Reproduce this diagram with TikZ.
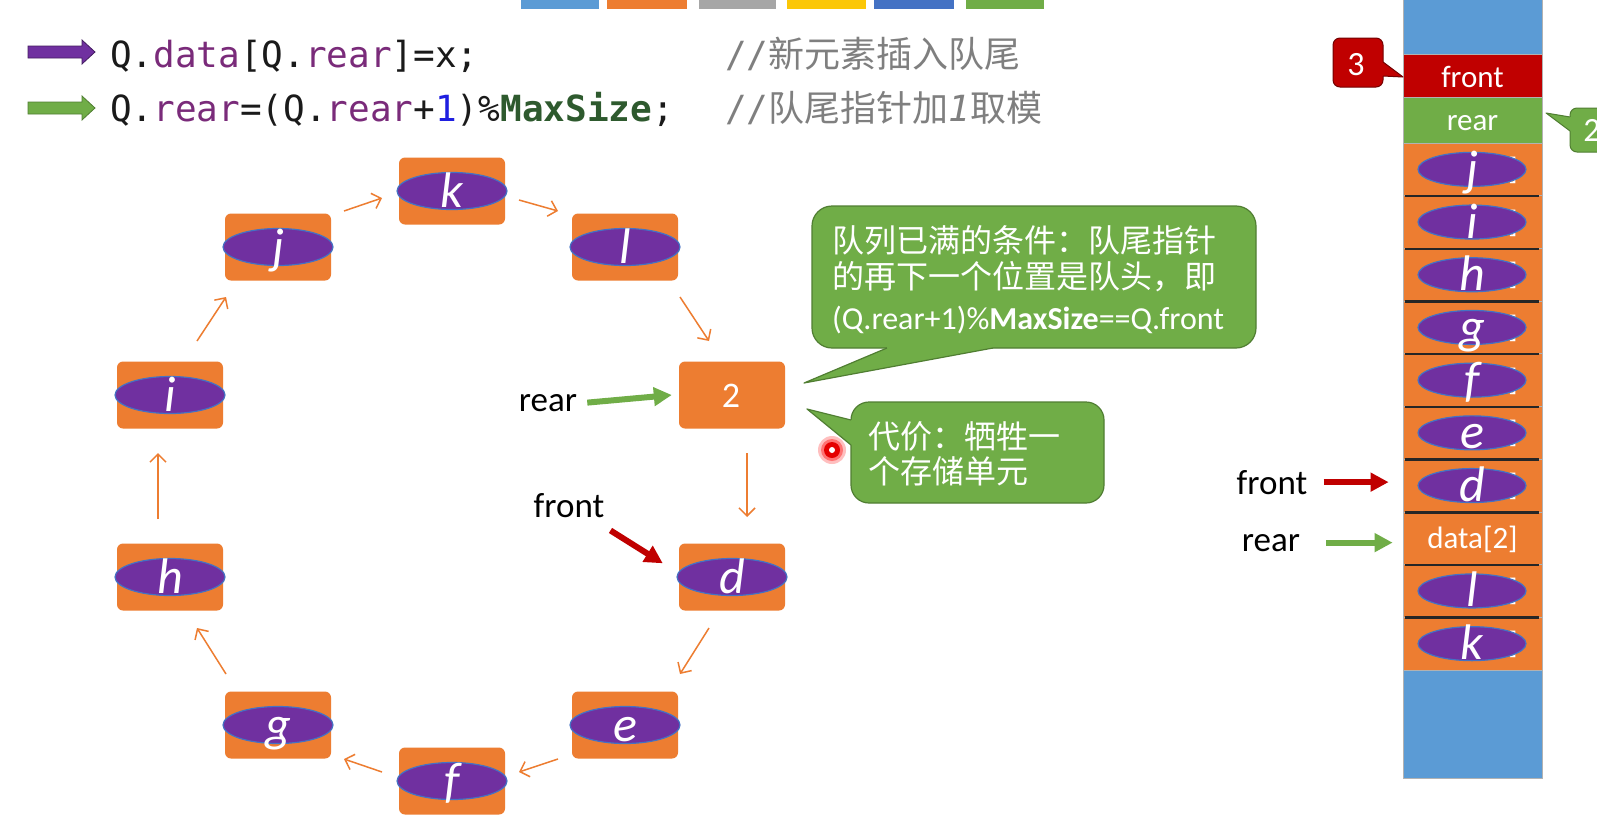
\documentclass[tikz,border=0pt]{standalone}
\usepackage{fontspec}
\setmainfont{Carlito}
\newfontfamily\cjk{Noto Sans CJK SC}
\newfontfamily\monof{DejaVu Sans Mono}
\usetikzlibrary{arrows.meta,shapes.geometric,calc}
\definecolor{oran}{HTML}{ED7D31}
\definecolor{grn}{HTML}{70AD47}
\definecolor{grnd}{HTML}{507E32}
\definecolor{dred}{HTML}{C00000}
\definecolor{purp}{HTML}{7030A0}
\definecolor{blu}{HTML}{5B9BD5}
\definecolor{ellb}{HTML}{4472C4}
\definecolor{kw}{HTML}{7A2B7A}
\definecolor{mgreen}{HTML}{2E5A2E}
\definecolor{numblue}{HTML}{1F1FE0}
\definecolor{cmt}{HTML}{7F7F7F}
\definecolor{ink}{HTML}{1A1A1A}
\newcommand{\pxsize}[1]{\fontsize{#1}{#1}\selectfont}
\tikzset{
 qbox/.style={rectangle, rounded corners=6pt, fill=oran, minimum width=106pt, minimum height=67pt, inner sep=0pt},
 qell/.style={ellipse, fill=purp, draw=ellb, line width=1.2pt, minimum width=110pt, minimum height=37pt, inner sep=0pt},
 qlet/.style={text=white, font=\pxsize{50}\itshape, inner sep=0pt, anchor=base},
 flow/.style={draw=oran, line width=1.5pt, -{Straight Barb[length=8pt,width=16pt]}},
 lbl/.style={font=\pxsize{35}, inner sep=0pt, text=black, anchor=base},
 fat/.style={line width=6pt, -{Triangle[length=18pt,width=18pt]}},
 cell/.style={rectangle, minimum width=139pt, inner sep=0pt, draw=gray!60, line width=0.8pt},
 celltxt/.style={text=white, font=\pxsize{31}, inner sep=0pt, anchor=base},
 sepline/.style={draw=black!85, line width=2.5pt},
 callbox/.style={rectangle, rounded corners=20pt, fill=grn, draw=grnd, line width=1.2pt, inner sep=0pt},
 calltxt/.style={text=white, inner sep=0pt, anchor=base west},
 codetxt/.style={font=\monof\pxsize{36}, inner sep=0pt, anchor=base west, text=ink},
}
\newcommand{\qnode}[4]{%
 \node[qbox] (#1) at (#2,#3) {};
 \node[qell] (#1e) at (#2,#3) {};
 \node[qlet] (#1t) at (#2,#3+16) {#4};
}
\newcommand{\ccell}[3]{%
 \node[cell, fill=oran, minimum height=52.7pt] (#1) at (1472.5,#2) {};
 \node[celltxt] (#1b) at (1513,#2+10) {]};
 \node[qell, minimum width=108pt, minimum height=34pt] (#1e) at (1472,#2) {};
 \node[qlet] (#1t) at (1472,#2+16) {#3};
}
\begin{document}
\begin{tikzpicture}[x=1pt,y=-1pt]
\useasboundingbox (0,0) rectangle (1597,814);
\clip (0,0) rectangle (1597,814);
\fill[white] (0,0) rectangle (1597,814);

% top colour tabs
\fill[blu] (521,0) rectangle (599,9);
\fill[oran] (607,0) rectangle (687,9);
\fill[gray!70] (699,0) rectangle (776,9);
\fill[yellow!60!orange] (787,0) rectangle (866,9);
\fill[ellb] (874,0) rectangle (954,9);
\fill[grn] (966,0) rectangle (1044,9);

% code lines
\filldraw[fill=purp, draw=purp!60!black, line width=0.8pt] (28,46) -- (82,46) -- (82,40) -- (95,52) -- (82,64) -- (82,58) -- (28,58) -- cycle;
\filldraw[fill=grn, draw=grnd, line width=0.8pt] (28,102) -- (82,102) -- (82,96) -- (95,108) -- (82,120) -- (82,114) -- (28,114) -- cycle;
\node[codetxt] (code1) at (110,67) {Q.\textcolor{kw}{data}[Q.\textcolor{kw}{rear}]=x;};
\node[codetxt] (code2) at (110,121) {Q.\textcolor{kw}{rear}=(Q.\textcolor{kw}{rear}+\textcolor{numblue}{1})\%\textcolor{mgreen}{\bfseries MaxSize};};
\node[codetxt, text=cmt] (cm1) at (725,67) {//{\cjk 新元素插入队尾}};
\node[codetxt, text=cmt] (cm2) at (725,121) {//{\cjk 队尾指针加}{\itshape 1}{\cjk 取模}};

% circular queue
\qnode{k}{452}{191}{k}
\qnode{l}{625}{247}{l}
\node[qbox] (n2) at (732,395) {};
\node[text=white, font=\pxsize{36}, inner sep=0pt, anchor=base] (n2t) at (731,407) {2};
\qnode{d}{732}{577}{d}
\qnode{e}{625}{725}{e}
\qnode{f}{452}{781}{f}
\qnode{g}{278}{725}{g}
\qnode{h}{170}{577}{h}
\qnode{i}{170}{395}{i}
\qnode{j}{278}{247}{j}

\draw[flow] ($(j)+(66,-36)$) -- ($(k)+(-70,7)$);
\draw[flow] ($(k)+(67,9)$) -- ($(l)+(-67,-36)$);
\draw[flow] ($(l)+(55,50)$) -- ($(n2)+(-23,-54)$);
\draw[flow] ($(n2)+(15,58)$) -- ($(d)+(15,-60)$);
\draw[flow] ($(d)+(-23,51)$) -- ($(e)+(55,-51)$);
\draw[flow] ($(e)+(-67,34)$) -- ($(f)+(67,-9)$);
\draw[flow] ($(f)+(-70,-9)$) -- ($(g)+(66,34)$);
\draw[flow] ($(g)+(-52,-51)$) -- ($(h)+(27,51)$);
\draw[flow] ($(h)+(-12,-58)$) -- ($(i)+(-12,58)$);
\draw[flow] ($(i)+(27,-54)$) -- ($(j)+(-52,50)$);

\node[lbl] (rearL) at (548,411) {rear};
\node[lbl] (frontL) at (569,517) {front};
\draw[fat, grn] ([xshift=10pt]rearL.east) -- ([xshift=-7pt]n2.west);
\draw[fat, dred] ([shift={(6,13)}]frontL.south east) -- ([shift={(-16,20)}]d.north west);

% callout 1
\node[callbox, minimum width=444pt, minimum height=142pt] (call1) at (1034,277) {};
\fill[grn] (887,348) -- (804,383) -- (993,348) -- (993,343) -- (887,343) -- cycle;
\draw[grnd, line width=1.2pt, line join=round] (887,348) -- (804,383) -- (993,348);
\node[calltxt, font=\cjk\pxsize{32}] (c1a) at (832,252) {队列已满的条件：队尾指针};
\node[calltxt, font=\cjk\pxsize{32}] (c1b) at (832,288) {的再下一个位置是队头，即};
\node[calltxt, font=\pxsize{32}] (c1c) at (832,329) {(Q.rear+1)\%\textbf{MaxSize}==Q.front};

% callout 2
\node[callbox, rounded corners=18pt, minimum width=253pt, minimum height=101pt] (call2) at (977.5,452.5) {};
\fill[grn] (851,420) -- (807,409) -- (851,445) -- (856,445) -- (856,420) -- cycle;
\draw[grnd, line width=1.2pt, line join=round] (851,420) -- (807,409) -- (851,445);
\node[calltxt, font=\cjk\pxsize{32}] (c2a) at (868,448) {代价：牺牲一};
\node[calltxt, font=\cjk\pxsize{32}] (c2b) at (868,483) {个存储单元};

% laser dot
\fill[red!25] (832,450) circle (14);
\fill[red!55] (832,450) circle (11);
\fill[red!90!black] (832,450) circle (8);
\fill[white] (832,450) circle (3);

% array column
\node[cell, fill=blu, minimum height=58pt] (ctop) at (1472.5,25) {};
\node[cell, fill=dred, minimum height=43pt] (cfront) at (1472.5,75.5) {};
\node[celltxt] (cfrontt) at (1472.5,87) {front};
\node[cell, fill=grn, minimum height=46pt] (crear) at (1472.5,120) {};
\node[celltxt] (creart) at (1472.5,130) {rear};
\ccell{cj}{169.35}{j}
\ccell{ci}{222.05}{i}
\ccell{ch}{274.75}{h}
\ccell{cg}{327.45}{g}
\ccell{cf}{380.15}{f}
\ccell{ce}{432.85}{e}
\ccell{cd}{485.55}{d}
\node[cell, fill=oran, minimum height=52.7pt] (cdata) at (1472.5,538.25) {};
\node[celltxt] (cdatat) at (1472.5,548) {data[2]};
\ccell{cl}{590.95}{l}
\ccell{ck}{643.65}{k}
\node[cell, fill=blu, minimum height=108pt] (cbot) at (1472.5,724) {};
\foreach \a/\b in {cj/ci,ci/ch,ch/cg,cg/cf,cf/ce,ce/cd,cd/cdata,cdata/cl,cl/ck}{
 \draw[sepline] ([xshift=2pt]\a.south west) -- ([xshift=-3pt]\a.south east);
}

% right pointers
\node[lbl] (frontR) at (1272,494) {front};
\node[lbl] (rearR) at (1271,551) {rear};
\draw[fat, dred] ($(frontR.east)+(16,0)$) -- ($(frontR.east -| cd.west)+(-14,0)$);
\draw[fat, grn] ($(rearR.east)+(26,0)$) -- ($(rearR.east -| cdata.west)+(-10,0)$);

% small callouts
\node[rectangle, rounded corners=7pt, fill=dred, draw=dred!60!black, line width=1pt, minimum width=50pt, minimum height=49pt, inner sep=0pt] (c3) at (1358,62.5) {};
\fill[dred] (1383,62) -- (1403,77) -- (1383,76) -- (1379,76) -- (1379,62) -- cycle;
\draw[dred!60!black, line width=1pt, line join=round] (1383,62) -- (1403,77) -- (1383,76);
\node[text=white, font=\pxsize{34}, inner sep=0pt, anchor=base] (c3t) at (1356,75) {3};
\node[rectangle, rounded corners=7pt, fill=grn, draw=grnd, line width=1pt, minimum width=55pt, minimum height=44pt, inner sep=0pt] (c4) at (1597.5,130) {};
\fill[grn] (1570,117) -- (1546,113) -- (1570,131) -- (1574,131) -- (1574,117) -- cycle;
\draw[grnd, line width=1pt, line join=round] (1570,117) -- (1546,113) -- (1570,131);
\node[text=white, font=\pxsize{34}, inner sep=0pt, anchor=base] (c4t) at (1592,141) {2};
\end{tikzpicture}
\end{document}
